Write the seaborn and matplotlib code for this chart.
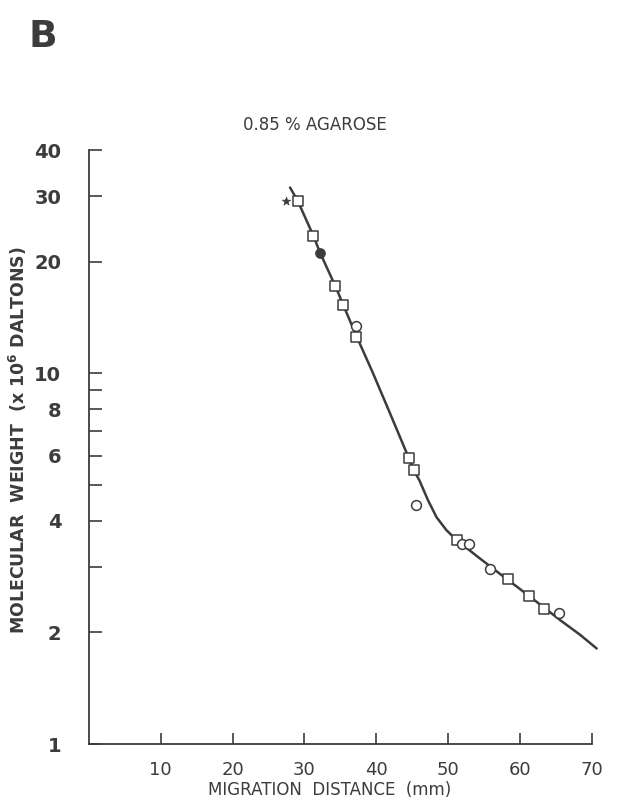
import matplotlib
matplotlib.use("Agg")
import matplotlib.pyplot as plt
import seaborn as sns

# smooth calibration curve
curve_x = [28.0, 29.1, 31.2, 32.2, 34.3, 35.4, 37.2, 39.5, 41.8, 43.9, 44.5, 45.3,
           46.0, 47.2, 48.4, 49.8, 51.2, 53.0, 54.4, 57.2, 60.0, 62.8, 65.6, 68.4, 70.7]
curve_y = [31.7, 29.1, 23.6, 21.1, 17.2, 15.3, 12.66, 10.06, 7.90, 6.32, 5.94, 5.44,
           5.15, 4.55, 4.09, 3.77, 3.55, 3.33, 3.17, 2.88, 2.62, 2.38, 2.16, 1.97, 1.81]

# marker groups
square_x = [29.1, 31.2, 34.3, 35.4, 37.2, 44.5, 45.2, 51.3, 58.3, 61.3, 63.3]
square_y = [29.1, 23.5, 17.2, 15.3, 12.5, 5.90, 5.48, 3.55, 2.78, 2.51, 2.32]
circle_x = [37.2, 45.6, 51.9, 52.9, 55.9, 65.4]
circle_y = [13.4, 4.41, 3.46, 3.46, 2.96, 2.26]
filled_x = [32.2]
filled_y = [21.1]
star_x = [27.5]
star_y = [29.2]

x_ticks = [10, 20, 30, 40, 50, 60, 70]
y_ticks = [1, 2, 3, 4, 5, 6, 7, 8, 9, 10, 20, 30, 40]
y_labels = ["1", "2", "", "4", "", "6", "", "8", "", "10", "20", "30", "40"]

ink = "#3c3c3c"

sns.set_style("ticks")
plt.rcParams["font.family"] = ["DejaVu Sans"]
plt.rcParams["mathtext.fontset"] = "dejavusans"

fig = plt.figure(figsize=(6.31, 8.02), dpi=100)
ax = fig.add_axes([0.141, 0.0723, 0.808, 0.7406])
ax.set_yscale("log")

sns.lineplot(x=curve_x, y=curve_y, sort=False, color=ink, linewidth=1.8, ax=ax, zorder=2)
sns.scatterplot(x=square_x, y=square_y, marker="s", s=55, color="white",
                edgecolor=ink, linewidth=1.1, ax=ax, zorder=3)
sns.scatterplot(x=circle_x, y=circle_y, marker="o", s=50, color="white",
                edgecolor=ink, linewidth=1.1, ax=ax, zorder=3)
sns.scatterplot(x=filled_x, y=filled_y, marker="o", s=50, color=ink,
                edgecolor=ink, ax=ax, zorder=3)
sns.scatterplot(x=star_x, y=star_y, marker="*", s=40, color=ink,
                edgecolor=ink, ax=ax, zorder=3)

ax.set_xlim(0, 71)
ax.set_ylim(1, 40)
ax.set_xticks(x_ticks)
ax.set_xticklabels([str(t) for t in x_ticks], fontsize=13, color=ink)
ax.set_yticks(y_ticks)
ax.set_yticklabels(y_labels, fontsize=14, fontweight="bold", color=ink)
ax.minorticks_off()
ax.tick_params(axis="x", direction="in", length=8, width=1.2, color=ink, pad=12)
ax.tick_params(axis="y", direction="in", length=9, width=1.2, color=ink, pad=20)

for side in ["top", "right"]:
    ax.spines[side].set_visible(False)
ax.spines["left"].set_color(ink)
ax.spines["bottom"].set_color(ink)
ax.spines["left"].set_linewidth(1.3)
ax.spines["bottom"].set_linewidth(1.3)
ax.spines["bottom"].set_bounds(0, 70)

fig.text(43 / 631, 1 - 37 / 802, "B", fontsize=27, fontweight="bold",
         color=ink, ha="center", va="center")
fig.text(315 / 631, 1 - 125 / 802, "0.85 % AGAROSE", fontsize=12,
         color=ink, ha="center", va="center")
fig.text(330 / 631, 1 - 790 / 802, "MIGRATION  DISTANCE  (mm)", fontsize=12,
         color=ink, ha="center", va="center")
fig.text(18 / 631, 1 - 440 / 802, r"MOLECULAR  WEIGHT  (x 10$^{\mathbf{6}}$ DALTONS)",
         fontsize=12.5, fontweight="bold", color=ink, rotation=90,
         ha="center", va="center")

fig.savefig("out.png", dpi=100)
